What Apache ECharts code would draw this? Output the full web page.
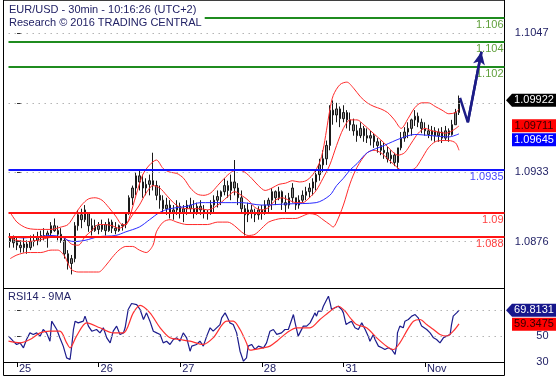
<!DOCTYPE html>
<html><head><meta charset="utf-8">
<script src="https://cdn.jsdelivr.net/npm/echarts@6/dist/echarts.min.js"></script>
<style>html,body{margin:0;padding:0;background:#fff}#c{width:558px;height:379px}</style>
</head><body><div id="c"></div>
<script>
// ---------- data (hours counted from 25 Oct 00:00, UTC+2; weekend skipped) ----------
const dayTicks = [0, 24, 48, 72, 96, 120];
const dayLabels = ['25', '26', '27', '28', '31', 'Nov'];
const priceTicks = [1.0876, 1.0933, 1.0990, 1.1047];
const rsiTicks = [30, 50, 70];
const greenLevels = [1.106, 1.104, 1.102];
const blueLevels = [1.0935];
const redLevels = [1.09, 1.088];
const firstHour = -2;
// hourly [open, close, low, high]
const ohlc = [
[1.0876,1.0879,1.0871,1.0883],[1.0879,1.0875,1.0871,1.0881],[1.0875,1.0873,1.0869,1.0880],[1.0873,1.0871,1.0867,1.0877],
[1.0871,1.0874,1.0867,1.0879],[1.0874,1.0871,1.0866,1.0877],[1.0871,1.0876,1.0869,1.0881],[1.0876,1.0877,1.0872,1.0882],
[1.0877,1.0880,1.0873,1.0884],[1.0880,1.0881,1.0876,1.0885],[1.0881,1.0880,1.0877,1.0887],[1.0880,1.0883,1.0871,1.0885],
[1.0883,1.0889,1.0879,1.0892],[1.0889,1.0885,1.0884,1.0895],[1.0885,1.0882,1.0877,1.0889],[1.0882,1.0877,1.0875,1.0887],
[1.0877,1.0866,1.0862,1.0879],[1.0866,1.0858,1.0853,1.0869],[1.0858,1.0862,1.0849,1.0865],[1.0862,1.0889,1.0859,1.0892],
[1.0889,1.0898,1.0885,1.0902],[1.0898,1.0894,1.0887,1.0903],[1.0894,1.0902,1.0892,1.0906],[1.0899,1.0889,1.0884,1.0900],
[1.0889,1.0885,1.0881,1.0895],[1.0885,1.0889,1.0884,1.0894],[1.0889,1.0886,1.0882,1.0892],[1.0886,1.0890,1.0884,1.0894],
[1.0890,1.0885,1.0881,1.0892],[1.0885,1.0892,1.0884,1.0895],[1.0892,1.0887,1.0883,1.0894],[1.0887,1.0885,1.0882,1.0892],
[1.0885,1.0889,1.0884,1.0890],[1.0889,1.0890,1.0885,1.0891],[1.0890,1.0899,1.0887,1.0900],[1.0899,1.0912,1.0898,1.0914],
[1.0912,1.0920,1.0906,1.0922],[1.0920,1.0930,1.0914,1.0933],[1.0930,1.0925,1.0918,1.0935],[1.0925,1.0920,1.0912,1.0931],
[1.0920,1.0923,1.0914,1.0928],[1.0923,1.0926,1.0914,1.0931],[1.0926,1.0922,1.0918,1.0949],[1.0922,1.0914,1.0910,1.0926],
[1.0914,1.0910,1.0903,1.0922],[1.0910,1.0903,1.0900,1.0914],[1.0903,1.0906,1.0898,1.0912],[1.0906,1.0900,1.0895,1.0910],
[1.0900,1.0902,1.0894,1.0906],[1.0902,1.0905,1.0898,1.0910],[1.0905,1.0900,1.0895,1.0908],[1.0900,1.0903,1.0892,1.0906],
[1.0903,1.0906,1.0898,1.0910],[1.0906,1.0903,1.0899,1.0912],[1.0903,1.0900,1.0895,1.0910],[1.0900,1.0905,1.0898,1.0908],
[1.0905,1.0902,1.0898,1.0910],[1.0902,1.0899,1.0895,1.0906],[1.0899,1.0900,1.0894,1.0902],[1.0900,1.0906,1.0898,1.0910],
[1.0906,1.0910,1.0900,1.0914],[1.0910,1.0913,1.0904,1.0918],[1.0913,1.0917,1.0906,1.0918],[1.0917,1.0922,1.0914,1.0928],
[1.0922,1.0918,1.0912,1.0926],[1.0918,1.0925,1.0910,1.0931],[1.0925,1.0920,1.0914,1.0943],[1.0920,1.0912,1.0906,1.0924],
[1.0912,1.0903,1.0900,1.0918],[1.0903,1.0898,1.0881,1.0906],[1.0898,1.0902,1.0892,1.0908],[1.0902,1.0900,1.0895,1.0906],
[1.0900,1.0898,1.0892,1.0903],[1.0898,1.0902,1.0894,1.0905],[1.0902,1.0900,1.0894,1.0906],[1.0900,1.0906,1.0898,1.0910],
[1.0906,1.0910,1.0900,1.0912],[1.0910,1.0917,1.0902,1.0920],[1.0917,1.0912,1.0906,1.0918],[1.0912,1.0917,1.0910,1.0921],
[1.0917,1.0908,1.0902,1.0918],[1.0908,1.0906,1.0900,1.0914],[1.0906,1.0912,1.0903,1.0916],[1.0912,1.0920,1.0908,1.0924],
[1.0912,1.0906,1.0902,1.0912],[1.0906,1.0910,1.0903,1.0914],[1.0910,1.0914,1.0908,1.0918],[1.0914,1.0917,1.0910,1.0921],
[1.0917,1.0920,1.0912,1.0924],[1.0920,1.0925,1.0914,1.0928],[1.0925,1.0931,1.0918,1.0935],[1.0931,1.0939,1.0926,1.0944],
[1.0939,1.0944,1.0933,1.0951],[1.0944,1.0955,1.0939,1.0959],[1.0955,1.0984,1.0951,1.0988],[1.0984,1.0980,1.0972,1.0992],
[1.0980,1.0985,1.0974,1.0990],[1.0985,1.0977,1.0970,1.0987],[1.0977,1.0982,1.0974,1.0988],[1.0982,1.0976,1.0969,1.0984],
[1.0976,1.0972,1.0967,1.0982],[1.0972,1.0967,1.0963,1.0977],[1.0967,1.0963,1.0958,1.0972],[1.0963,1.0969,1.0961,1.0974],
[1.0969,1.0963,1.0958,1.0971],[1.0963,1.0961,1.0957,1.0969],[1.0961,1.0963,1.0955,1.0967],[1.0963,1.0958,1.0953,1.0965],
[1.0958,1.0955,1.0949,1.0961],[1.0955,1.0951,1.0947,1.0959],[1.0951,1.0949,1.0944,1.0957],[1.0949,1.0944,1.0941,1.0954],
[1.0944,1.0947,1.0940,1.0951],[1.0947,1.0941,1.0938,1.0949],[1.0941,1.0953,1.0936,1.0953],[1.0953,1.0961,1.0951,1.0966],
[1.0961,1.0966,1.0958,1.0970],[1.0966,1.0969,1.0961,1.0974],[1.0969,1.0976,1.0963,1.0977],[1.0976,1.0979,1.0971,1.0984],
[1.0979,1.0974,1.0970,1.0982],[1.0974,1.0969,1.0965,1.0977],[1.0969,1.0967,1.0963,1.0974],[1.0967,1.0964,1.0961,1.0972],
[1.0964,1.0967,1.0959,1.0971],[1.0967,1.0963,1.0958,1.0970],[1.0963,1.0966,1.0958,1.0969],[1.0966,1.0961,1.0957,1.0970],
[1.0961,1.0967,1.0959,1.0971],[1.0967,1.0964,1.0958,1.0969],[1.0964,1.0972,1.0963,1.0976],[1.0972,1.0982,1.0972,1.0985],
[1.0982,1.0992,1.0980,1.0996]
];
const bbUpper = [[-2,1.0900],[0,1.0892],[3,1.0887],[7,1.0886],[10,1.0886],[13,1.0888],[15,1.0890],[17,1.0898],[19,1.0906],[21,1.0911],[23,1.0912],[25,1.0910],[27,1.0904],[29,1.0897],[31,1.0890],[32,1.0890],[33,1.0895],[35,1.0914],[37,1.0931],[39,1.0939],[41,1.0943],[43,1.0936],[45,1.0933],[47,1.0932],[49,1.0928],[51,1.0920],[53,1.0915],[55,1.0914],[57,1.0916],[59,1.0922],[61,1.0928],[63,1.0933],[65,1.0935],[67,1.0933],[69,1.0928],[71,1.0922],[73,1.0918],[75,1.0920],[77,1.0923],[79,1.0924],[81,1.0926],[83,1.0925],[85,1.0926],[87,1.0931],[89,1.0941],[90,1.0951],[91,1.0967],[92,1.0984],[93,1.0996],[95,1.1005],[97,1.1007],[99,1.1002],[101,1.0995],[103,1.0990],[105,1.0987],[107,1.0985],[109,1.0982],[111,1.0976],[113,1.0969],[115,1.0977],[117,1.0986],[119,1.0990],[121,1.0990],[123,1.0987],[125,1.0984],[127,1.0981],[129,1.0982],[130,1.0985]];
const bbMiddle = [[-2,1.0879],[0,1.0877],[3,1.0876],[6,1.0877],[9,1.0879],[12,1.0880],[14,1.0879],[16,1.0874],[18,1.0873],[20,1.0880],[22,1.0885],[24,1.0890],[26,1.0890],[28,1.0889],[30,1.0887],[32,1.0890],[34,1.0898],[36,1.0906],[38,1.0916],[40,1.0922],[42,1.0920],[44,1.0914],[46,1.0908],[48,1.0904],[50,1.0903],[52,1.0903],[54,1.0903],[56,1.0902],[58,1.0904],[60,1.0908],[62,1.0913],[64,1.0917],[66,1.0914],[68,1.0910],[70,1.0904],[72,1.0902],[74,1.0904],[76,1.0910],[78,1.0912],[80,1.0910],[82,1.0908],[84,1.0908],[86,1.0912],[88,1.0918],[90,1.0928],[92,1.0939],[94,1.0955],[96,1.0969],[98,1.0976],[100,1.0976],[102,1.0972],[104,1.0967],[106,1.0962],[108,1.0957],[110,1.0951],[112,1.0947],[114,1.0949],[116,1.0957],[118,1.0965],[120,1.0969],[122,1.0967],[124,1.0966],[126,1.0965],[128,1.0967],[130,1.0971]];
const bbLower = [[-2,1.0862],[0,1.0865],[3,1.0867],[7,1.0867],[10,1.0869],[12,1.0869],[14,1.0864],[15,1.0858],[16,1.0853],[18,1.0851],[21,1.0851],[24,1.0851],[26,1.0856],[28,1.0863],[30,1.0869],[32,1.0872],[34,1.0872],[36,1.0869],[38,1.0867],[40,1.0873],[41,1.0884],[43,1.0892],[45,1.0894],[47,1.0892],[50,1.0890],[53,1.0890],[56,1.0890],[59,1.0892],[62,1.0892],[64,1.0889],[66,1.0884],[68,1.0881],[70,1.0882],[72,1.0887],[74,1.0892],[76,1.0894],[78,1.0895],[80,1.0895],[82,1.0895],[84,1.0897],[86,1.0899],[88,1.0898],[90,1.0894],[92,1.0890],[93,1.0888],[94,1.0892],[96,1.0906],[98,1.0924],[100,1.0937],[103,1.0949],[105,1.0951],[107,1.0949],[109,1.0944],[111,1.0939],[113,1.0935],[115,1.0935],[117,1.0936],[119,1.0944],[121,1.0953],[123,1.0958],[125,1.0959],[127,1.0959],[129,1.0957],[130,1.0951]];
const maLine = [[-2,1.0880],[2,1.0879],[6,1.0880],[10,1.0881],[13,1.0880],[15,1.0877],[17,1.0876],[20,1.0877],[24,1.0880],[29,1.0881],[32,1.0884],[36,1.0888],[39,1.0894],[42,1.0900],[45,1.0903],[50,1.0905],[54,1.0908],[60,1.0908],[66,1.0908],[72,1.0906],[80,1.0907],[88,1.0908],[92,1.0914],[94,1.0922],[96,1.0928],[98,1.0935],[100,1.0940],[103,1.0949],[108,1.0955],[113,1.0961],[117,1.0964],[122,1.0963],[127,1.0962],[130,1.09645]];
const forecast = [[130.3,1.0994],[132.6,1.0974],[136.6,1.1032]];
const rsi = [[-2.5,49.9],[-1.1,46.0],[-0.1,43.5],[0.9,44.7],[1.9,40.9],[2.8,47.3],[3.8,52.4],[4.8,51.2],[5.8,52.4],[6.8,49.9],[7.7,55.0],[8.7,52.4],[9.7,46.0],[10.2,61.4],[10.7,62.7],[11.7,55.0],[12.6,48.6],[13.6,42.2],[14.6,33.2],[15.6,31.9],[16.1,42.2],[16.6,55.0],[17.1,61.4],[18.0,60.1],[19.5,61.4],[20.0,65.3],[21.0,57.6],[22.0,53.7],[23.4,55.0],[24.4,52.4],[25.4,56.3],[26.4,48.6],[27.4,44.7],[28.3,53.7],[29.3,57.6],[30.3,51.2],[31.3,52.4],[31.8,56.3],[32.7,70.4],[33.7,75.0],[35.2,74.2],[36.2,70.4],[37.2,62.7],[38.1,67.8],[39.1,61.4],[40.1,53.7],[41.1,52.4],[42.1,51.2],[43.0,44.7],[44.0,46.0],[45.0,43.5],[46.0,47.3],[47.0,48.6],[47.9,46.0],[48.9,52.4],[49.9,48.6],[50.9,38.3],[51.4,42.2],[52.8,43.5],[53.8,46.0],[54.8,42.2],[55.8,49.9],[56.8,56.3],[57.7,53.7],[58.7,56.3],[59.7,58.8],[60.2,64.0],[61.2,67.8],[61.7,65.3],[62.6,60.1],[63.6,58.8],[64.6,52.4],[65.6,38.3],[66.6,30.6],[67.5,33.2],[68.0,42.2],[69.0,43.5],[70.0,39.6],[71.0,42.2],[72.5,40.9],[73.4,44.7],[74.4,53.7],[75.4,55.0],[76.4,51.2],[77.8,52.4],[78.8,55.0],[79.8,55.0],[80.8,62.7],[81.3,66.5],[81.8,60.1],[82.7,49.9],[83.2,48.6],[84.2,57.6],[85.2,57.6],[86.2,60.1],[87.2,65.3],[87.6,67.8],[88.1,65.3],[88.6,69.1],[89.6,69.1],[90.1,72.9],[90.6,71.7],[91.1,78.1],[91.6,80.6],[92.1,75.5],[92.5,70.4],[93.5,71.7],[94.5,72.9],[95.5,70.4],[96.0,67.8],[96.8,58.8],[97.5,60.1],[98.4,61.4],[99.4,56.3],[100.4,55.0],[101.4,60.1],[102.4,55.0],[103.3,49.9],[103.8,46.0],[104.8,51.2],[105.3,47.3],[106.3,42.2],[107.3,40.9],[108.2,39.6],[109.2,40.9],[110.2,39.6],[110.7,38.3],[111.2,35.8],[111.7,43.5],[111.9,52.4],[112.6,57.6],[113.6,56.3],[114.1,61.4],[115.1,62.7],[116.1,65.3],[117.1,66.5],[118.0,64.0],[119.0,57.6],[120.5,55.0],[121.5,52.4],[122.5,48.6],[123.4,47.3],[124.4,44.7],[125.4,48.6],[126.4,49.9],[127.4,51.2],[127.8,58.8],[128.3,65.3],[129.3,67.8],[130.0,69.81]];
const rsiMa = [[-2.5,46.0],[0.9,44.7],[3.8,47.3],[6.8,52.4],[9.7,53.7],[12.6,53.7],[14.6,44.7],[15.6,40.9],[17.5,49.9],[20.5,60.1],[24.4,56.3],[28.3,52.4],[31.3,52.4],[34.2,67.8],[36.2,73.5],[39.1,67.8],[42.1,56.3],[45.0,48.6],[47.9,47.3],[50.9,46.0],[54.8,43.5],[57.7,48.6],[61.7,61.4],[63.6,61.4],[65.6,55.0],[67.5,44.7],[68.5,39.1],[72.5,40.9],[74.4,42.2],[76.4,46.0],[79.3,52.4],[82.3,56.3],[86.2,56.3],[89.1,62.7],[92.1,69.1],[94.5,72.9],[96.5,69.1],[98.0,64.0],[99.9,58.8],[102.8,56.3],[105.8,48.6],[108.7,42.2],[110.7,39.6],[112.6,44.7],[114.6,53.7],[116.6,61.4],[118.5,62.7],[120.5,58.8],[122.5,55.0],[124.4,51.2],[126.4,49.9],[128.3,53.7],[130.0,59.35]];
const lastPrice = 1.09922, lastMiddle = 1.09711, lastMa = 1.09645;
const lastRsi = 69.8131, lastRsiMa = 59.3475;

// ---------- chart ----------
const FONT = '"Liberation Sans", Arial, sans-serif';
const NAVY = '#222266';
const xMin = -3.97, xMax = 143.38, lineStart = -2.5;
const candles = ohlc.map((d, i) => [firstHour + i, d[0], d[1], d[2], d[3]]);

function levelLines(levels, color, lblColor) {
  return levels.map(v => [
    {coord: [lineStart, v], lineStyle: {color: color, width: 2, type: 'solid'},
     label: {show: true, position: 'insideEndBottom', distance: [1, 2], formatter: String(v), color: lblColor, fontSize: 11, fontFamily: FONT}},
    {coord: [xMax, v]}
  ]);
}
function gridLines(vals) {
  return vals.map(v => [{coord: [lineStart, v]}, {coord: [xMax, v]}]);
}
const dotted = {color: '#b4b4b4', width: 1, type: [1.5, 4.5]};

const chart = echarts.init(document.getElementById('c'));
chart.setOption({
  animation: false,
  backgroundColor: '#fff',
  title: [
    {text: 'EUR/USD - 30min - 10:16:26 (UTC+2)\nResearch © 2016 TRADING CENTRAL', left: 6, top: 2, padding: [1, 3, 1, 3],
     backgroundColor: '#fff', z: 10,
     textStyle: {fontSize: 11, fontWeight: 'normal', color: NAVY, fontFamily: FONT, lineHeight: 13}},
    {text: 'RSI14 - 9MA', left: 5, top: 290, padding: [1, 3],
     textStyle: {fontSize: 11, fontWeight: 'normal', color: NAVY, fontFamily: FONT}}
  ],
  grid: [
    {left: 3.5, right: 53.5, top: -0.5, height: 289, show: true, borderColor: '#000', borderWidth: 1, backgroundColor: 'transparent'},
    {left: 3.5, right: 53.5, top: 288.5, height: 73.5},
    {left: 3.5, right: 53.5, top: -0.5, bottom: 3.5, show: true, borderColor: '#000', borderWidth: 1, backgroundColor: 'transparent'}
  ],
  xAxis: [
    {gridIndex: 0, type: 'value', min: xMin, max: xMax, show: false},
    {gridIndex: 1, type: 'value', min: xMin, max: xMax,
     axisLine: {show: true, lineStyle: {color: '#000'}},
     axisTick: {show: true, customValues: dayTicks, length: 5, lineStyle: {color: '#000'}},
     axisLabel: {customValues: dayTicks, formatter: v => dayLabels[dayTicks.indexOf(v)], align: 'left', margin: 1,
                 padding: [0, 0, 0, 2], color: NAVY, fontSize: 11, fontFamily: FONT},
     splitLine: {show: false}},
    {gridIndex: 2, type: 'value', min: 0, max: 1, show: false}
  ],
  yAxis: [
    {gridIndex: 0, type: 'value', position: 'right', min: 1.083745, max: 1.107448, scale: true,
     axisLine: {show: false},
     axisTick: {show: true, customValues: priceTicks, length: 4, lineStyle: {color: '#333'}},
     axisLabel: {customValues: priceTicks, formatter: v => v.toFixed(4), align: 'right', margin: 44,
                 color: NAVY, fontSize: 11, fontFamily: FONT},
     splitLine: {show: false}},
    {gridIndex: 1, type: 'value', position: 'right', min: 30, max: 86.54,
     axisLine: {show: false},
     axisTick: {show: true, customValues: rsiTicks, length: 4, lineStyle: {color: '#333'}},
     axisLabel: {customValues: rsiTicks, formatter: v => String(v), align: 'right', margin: 44,
                 color: NAVY, fontSize: 11, fontFamily: FONT},
     splitLine: {show: false}},
    {gridIndex: 2, type: 'value', min: 0, max: 1, show: false}
  ],
  series: [
    {type: 'line', xAxisIndex: 0, yAxisIndex: 0, data: [], silent: true, z: 1,
     markLine: {silent: true, symbol: ['none', 'none'], lineStyle: dotted, label: {show: false}, data: gridLines(priceTicks)}},
    {type: 'line', xAxisIndex: 1, yAxisIndex: 1, data: [], silent: true, z: 1,
     markLine: {silent: true, symbol: ['none', 'none'], lineStyle: dotted, label: {show: false}, data: gridLines([50, 70])}},
    {type: 'candlestick', xAxisIndex: 0, yAxisIndex: 0, data: candles, barWidth: 2, z: 2,
     itemStyle: {color: '#8c8c8c', color0: '#8c8c8c', borderColor: '#1a1a1a', borderColor0: '#1a1a1a', borderWidth: 1}},
    {type: 'line', xAxisIndex: 0, yAxisIndex: 0, data: bbUpper, showSymbol: false, smooth: 0.3, z: 3,
     lineStyle: {color: '#ff2a2a', width: 1}},
    {type: 'line', xAxisIndex: 0, yAxisIndex: 0, data: bbMiddle, showSymbol: false, smooth: 0.3, z: 3,
     lineStyle: {color: '#ff2a2a', width: 1}},
    {type: 'line', xAxisIndex: 0, yAxisIndex: 0, data: bbLower, showSymbol: false, smooth: 0.3, z: 3,
     lineStyle: {color: '#ff2a2a', width: 1}},
    {type: 'line', xAxisIndex: 0, yAxisIndex: 0, data: maLine, showSymbol: false, smooth: 0.3, z: 3,
     lineStyle: {color: '#2a2aff', width: 1}},
    {type: 'line', xAxisIndex: 0, yAxisIndex: 0, data: [], silent: true, z: 4,
     markLine: {silent: true, symbol: ['none', 'none'],
       data: [].concat(levelLines(greenLevels, '#1f8c1f', '#5f9f3a'),
                       levelLines(blueLevels, '#1414ff', '#4848ff'),
                       levelLines(redLevels, '#ff1414', '#ff4040'))}},
    {type: 'line', xAxisIndex: 0, yAxisIndex: 0, data: forecast, showSymbol: false, z: 5,
     lineStyle: {color: '#1c1c86', width: 2.5},
     markLine: {silent: true, symbol: ['none', 'arrow'], symbolSize: [9, 13], label: {show: false},
       lineStyle: {color: '#1c1c86', width: 2.5, type: 'solid'},
       data: [[{coord: forecast[1]}, {coord: forecast[2]}]]}},
    {type: 'line', xAxisIndex: 1, yAxisIndex: 1, data: rsi, showSymbol: false, z: 3,
     lineStyle: {color: '#1c1c8c', width: 1.2}},
    {type: 'line', xAxisIndex: 1, yAxisIndex: 1, data: rsiMa, showSymbol: false, smooth: 0.3, z: 3,
     lineStyle: {color: '#ff3030', width: 1.2}}
  ]
});

// value tags on the right, placed through the axes' scales
function tags(items, axisIdx) {
  const out = [];
  let prevBottom = -Infinity;
  items.forEach(t => {
    let y = chart.convertToPixel({yAxisIndex: axisIdx}, t.value);
    if (y - 6.5 < prevBottom + 1) y = prevBottom + 1 + 6.5;
    prevBottom = y + 6.5;
    const x0 = t.arrow ? 512 : 512;
    const pts = t.arrow
      ? [[506, y], [512, y - 6.5], [556, y - 6.5], [556, y + 6.5], [512, y + 6.5]]
      : [[x0, y - 6.5], [556, y - 6.5], [556, y + 6.5], [x0, y + 6.5]];
    out.push({type: 'polygon', z: 20, shape: {points: pts}, style: {fill: t.bg}});
    out.push({type: 'text', z: 21, x: 534, y: y,
      style: {text: t.label, fill: t.fg, font: '11px ' + FONT, align: 'center', verticalAlign: 'middle'}});
  });
  return out;
}
chart.setOption({graphic: [].concat(
  tags([{value: lastPrice, label: String(lastPrice), bg: '#000', fg: '#fff', arrow: true},
        {value: lastMiddle, label: String(lastMiddle), bg: '#ff0000', fg: '#300', arrow: false},
        {value: lastMa, label: String(lastMa), bg: '#0000ff', fg: '#fff', arrow: false}], 0),
  tags([{value: lastRsi, label: String(lastRsi), bg: '#16168c', fg: '#fff', arrow: true},
        {value: lastRsiMa, label: String(lastRsiMa), bg: '#ff0000', fg: '#300', arrow: false}], 1)
)});
</script></body></html>
